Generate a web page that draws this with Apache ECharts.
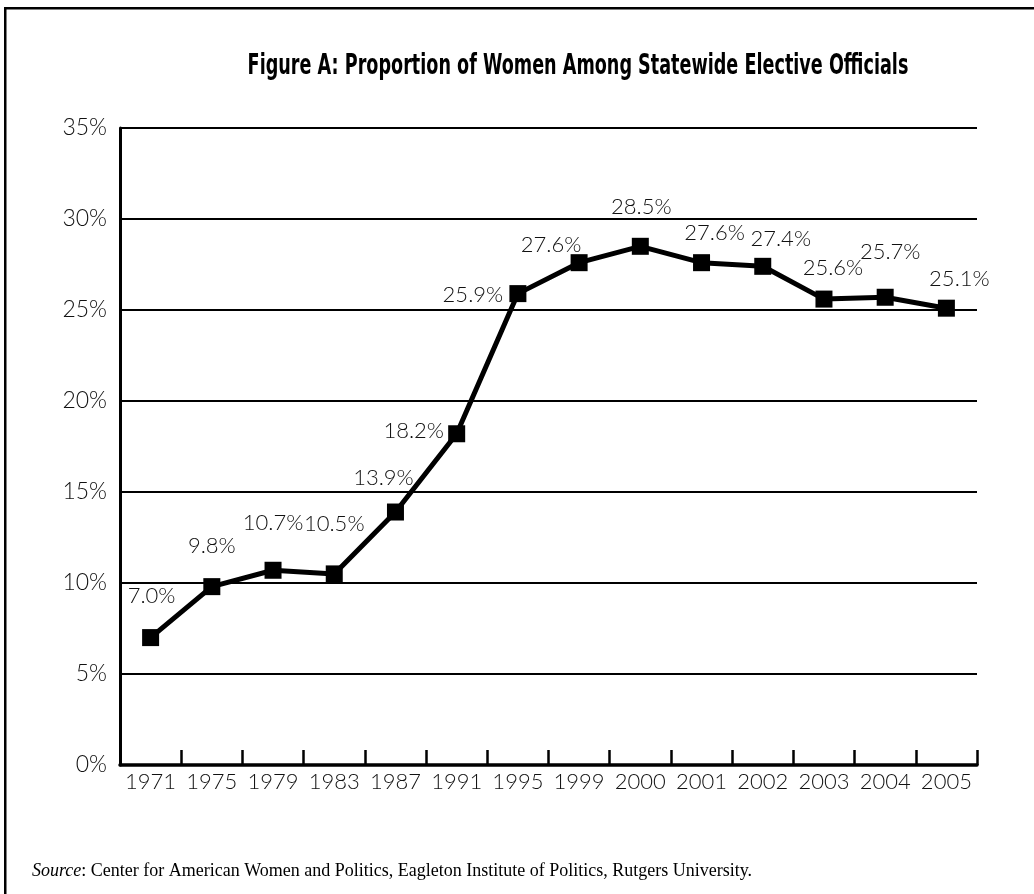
<!DOCTYPE html>
<html>
<head>
<meta charset="utf-8">
<script src="https://cdn.jsdelivr.net/npm/echarts@6/dist/echarts.min.js"></script>
<style>
html,body{margin:0;padding:0;background:#fff;}
#chart{width:1034px;height:894px;}
</style>
</head>
<body>
<div id="chart"></div>
<script>
// ---- data ----
const years = ['1971','1975','1979','1983','1987','1991','1995','1999','2000','2001','2002','2003','2004','2005'];
const womenShare = [7.0, 9.8, 10.7, 10.5, 13.9, 18.2, 25.9, 27.6, 28.5, 27.6, 27.4, 25.6, 25.7, 25.1];
const yTicks = [0, 5, 10, 15, 20, 25, 30, 35];

// label placement (layout only, px offsets of label centre from marker centre)
const labelOffsets = [[1,-42],[0,-41],[0,-47],[0,-50],[-12,-34],[-43,-3],[-45,1],[-28,-18],[1,-39],[13,-30],[18,-27],[9,-31],[5,-45],[13,-29]];

const FONT = "Lato,'Noto Sans',sans-serif";
const TFONT = "'DejaVu Sans Condensed','DejaVu Sans',sans-serif";
const SFONT = "'Liberation Serif','Times New Roman',serif";
const chart = echarts.init(document.getElementById('chart'), null, {renderer:'canvas'});

const seriesData = womenShare.map((v,i)=>({
  value: v,
  label: { offset: labelOffsets[i] }
}));

chart.setOption({
  animation: false,
  backgroundColor: '#fff',
  grid: { left: 120, right: 57, top: 128, bottom: 129, containLabel: false },
  xAxis: {
    type: 'category',
    data: years,
    boundaryGap: true,
    axisLine: { show: true, lineStyle: { color: '#000', width: 3.5 } },
    axisTick: { show: true, interval: 0, inside: true, length: 15, lineStyle: { color: '#000', width: 2.5 } },
    axisLabel: { interval: 0, fontFamily: FONT, fontWeight: 300, fontSize: 22, color: '#111', margin: 6 },
    splitLine: { show: false }
  },
  yAxis: {
    type: 'value',
    min: yTicks[0],
    max: yTicks[yTicks.length-1],
    interval: yTicks[1]-yTicks[0],
    axisLine: { show: true, lineStyle: { color: '#000', width: 3 } },
    axisTick: { show: false },
    axisLabel: { fontFamily: FONT, fontWeight: 300, fontSize: 23, color: '#111', margin: 13, formatter: '{value}%' },
    splitLine: { show: true, lineStyle: { color: '#000', width: 2 } }
  },
  series: [{
    type: 'line',
    data: seriesData,
    symbol: 'rect',
    symbolSize: 17,
    lineStyle: { color: '#000', width: 5 },
    itemStyle: { color: '#000' },
    label: {
      show: true,
      position: 'inside',
      color: '#111',
      fontFamily: FONT,
      fontWeight: 300,
      fontSize: 22,
      formatter: p => p.value.toFixed(1) + '%'
    },
    z: 5
  }],
  graphic: [
    { type: 'rect', shape: { x: 5, y: 7, width: 1029, height: 2.5 }, style: { fill: '#000' } },
    { type: 'rect', shape: { x: 4, y: 7, width: 2.5, height: 887 }, style: { fill: '#000' } },
    {
      type: 'text', x: 578, y: 66, scaleX: 0.675,
      style: {
        text: 'Figure A: Proportion of Women Among Statewide Elective Officials',
        fontFamily: TFONT, fontWeight: 'bold', fontSize: 29, fill: '#000',
        align: 'center', verticalAlign: 'middle'
      }
    },
    {
      type: 'text', left: 32, top: 862,
      style: {
        text: '{i|Source}: Center for American Women and Politics, Eagleton Institute of Politics, Rutgers University.',
        fontFamily: SFONT,
        fontSize: 18,
        fill: '#000',
        rich: { i: { fontStyle: 'italic', fontFamily: SFONT, fontSize: 18 } }
      }
    }
  ]
});
</script>
</body>
</html>
